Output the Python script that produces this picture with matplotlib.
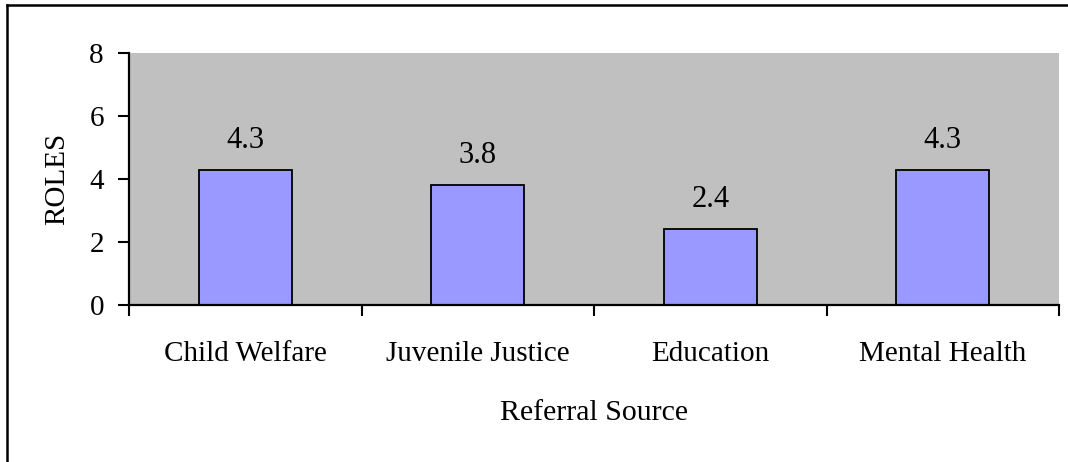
import matplotlib.pyplot as plt
from matplotlib.lines import Line2D

plt.rcParams['font.family'] = ['Liberation Serif', 'DejaVu Serif']

categories = ['Child Welfare', 'Juvenile Justice', 'Education', 'Mental Health']
values = [4.3, 3.8, 2.4, 4.3]
yticks = [0, 2, 4, 6, 8]

W, H = 1068, 462
fig = plt.figure(figsize=(W / 100, H / 100), dpi=100)
# plot area in pixels: left 129, right 1059, top 53, bottom 305
ax = fig.add_axes([129 / W, 1 - 305 / H, 930 / W, 252 / H])
ax.set_facecolor('#C0C0C0')

x = list(range(len(categories)))
ax.bar(x, values, width=0.4, color='#9999FF', edgecolor='black', linewidth=1.3, zorder=2)
for xi, v in zip(x, values):
    ax.text(xi, v + 0.7, f'{v:.1f}', ha='center', va='baseline', fontsize=22)

ax.set_xlim(-0.5, len(categories) - 0.5)
ax.set_ylim(0, 8)
ax.set_yticks(yticks)
ax.set_yticklabels([str(t) for t in yticks], fontsize=21)
ax.set_xticks([i - 0.5 for i in range(len(categories) + 1)])
ax.set_xticklabels([])
ax.set_xticks(x, minor=True)
ax.set_xticklabels(categories, minor=True, fontsize=21)
ax.tick_params(axis='x', which='minor', length=0, pad=26)
ax.tick_params(axis='x', which='major', length=8, width=1.5, direction='out')
ax.tick_params(axis='y', length=8, width=1.5, direction='out', pad=10)

for s in ['top', 'right']:
    ax.spines[s].set_visible(False)
for s in ['left', 'bottom']:
    ax.spines[s].set_linewidth(1.6)

ax.set_ylabel('ROLES', fontsize=21)
ax.yaxis.set_label_coords((57 - 129) / 930, 0.5)
ax.yaxis.label.set_va('center')
ax.set_xlabel('Referral Source', fontsize=21.5)
ax.xaxis.set_label_coords(0.5, -(413 - 305) / 252)
ax.xaxis.label.set_va('center')

# outer frame: only top and left edges are visible in the picture
fig.add_artist(Line2D([7 / W, 1.01], [1 - 5 / H, 1 - 5 / H], transform=fig.transFigure,
                      color='black', linewidth=1.8))
fig.add_artist(Line2D([7 / W, 7 / W], [1 - 5 / H, -0.01], transform=fig.transFigure,
                      color='black', linewidth=1.8))

fig.savefig('out.png', dpi=100)
